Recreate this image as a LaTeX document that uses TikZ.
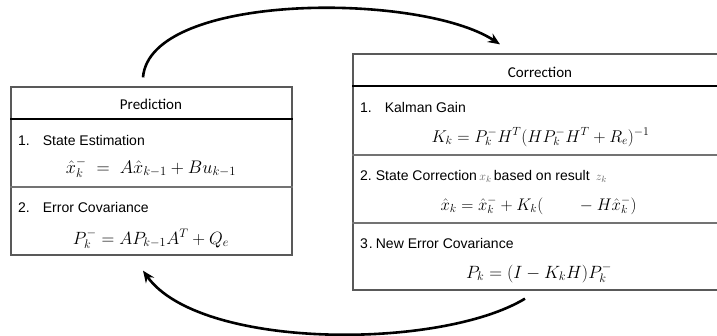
\documentclass[tikz,border=0pt]{standalone}
\usepackage{fontspec}
\usepackage{graphicx}
\setmainfont{Liberation Sans}
\newfontfamily\hdrfont{Carlito}
\usetikzlibrary{arrows.meta,calc}
\newcommand{\fiteq}[2]{\resizebox{#1}{!}{$#2$}}
\tikzset{
  boxframe/.style={draw=black!65, line width=1.3pt, fill=white, inner sep=0pt},
  headrule/.style={line width=2.6pt, black},
  secrule/.style={line width=1.3pt, black!55},
  hdr/.style={font=\hdrfont\fontsize{15}{18}\selectfont, anchor=base, inner sep=0pt},
  item/.style={font=\fontsize{14}{17}\selectfont, anchor=base west, inner sep=0pt},
  eq/.style={font=\fontsize{17}{20}\selectfont, anchor=base, inner sep=0pt},
  loop/.style={line width=2.6pt, -{Stealth[length=12pt,width=10pt]}},
}
\begin{document}
\begin{tikzpicture}[x=1pt,y=-1pt]
\useasboundingbox (0,0) rectangle (717,335);
\begin{scope}
\clip (0,0) rectangle (717,335);
% Prediction box
\node[boxframe, minimum width=281pt, minimum height=168pt] (pred) at (151.5,171) {};
\draw[headrule] (pred.west |- 0,119) coordinate (ph1) -- (pred.east |- 0,119) coordinate (ph2);
\draw[secrule] (pred.west |- 0,187) coordinate (ps1) -- (pred.east |- 0,187) coordinate (ps2);
\node[hdr] (ptitle) at (151,109) {Prediction};
\node[item] (p1) at (18,145) {1.\hspace{13pt}State Estimation};
\node[eq] (pe1) at (151,173) {\fiteq{170pt}{\hat{x}_k^- \;=\; A\hat{x}_{k-1} + Bu_{k-1}}};
\node[item] (p2) at (18,212) {2.\hspace{13pt}Error Covariance};
\node[eq] (pe2) at (151,244) {\fiteq{156pt}{P_k^- = AP_{k-1}A^T + Q_e}};
% Correction box
\node[boxframe, minimum width=380pt, minimum height=236pt] (corr) at (543,172) {};
\draw[headrule] (corr.west |- 0,86) coordinate (ch1) -- (corr.east |- 0,86) coordinate (ch2);
\draw[secrule] (corr.west |- 0,155) coordinate (cs1) -- (corr.east |- 0,155) coordinate (cs2);
\draw[secrule] (corr.west |- 0,223) coordinate (cs3) -- (corr.east |- 0,223) coordinate (cs4);
\node[hdr] (ctitle) at (540,77) {Correction};
\node[item] (c1) at (360,112) {1.\hspace{13pt}Kalman Gain};
\node[eq] (ce1) at (540.5,142) {\fiteq{218pt}{K_k = P_k^- H^T(HP_k^- H^T + R_e)^{-1}}};
\node[item] (c2) at (360,180) {2.\hspace{4pt}State Correction\,{\color{black!60}\fontsize{13}{15}\selectfont$x_k$}\,based on result\, {\color{black!60}\fontsize{13}{15}\selectfont$z_k$}};
\node[eq] (ce2) at (538.5,210) {\fiteq{196pt}{\hat{x}_k = \hat{x}_k^- + K_k(\qquad{} - H\hat{x}_k^-)}};
\node[item] (c3) at (360,248) {3\hspace{1pt}.\hspace{3pt}New Error Covariance};
\node[eq] (ce3) at (539,278) {\fiteq{146pt}{P_k = (I - K_kH)P_k^-}};
\end{scope}
% Loop arrows
\coordinate (t0) at ($(pred.north)+(-8.5,-9)$);
\coordinate (t1) at ($(corr.north)+(-43,-9)$);
\coordinate (b0) at ($(corr.south)+(-18,8)$);
\coordinate (b1) at ($(pred.south)+(-8.5,15)$);
\draw[loop] (t0) .. controls (150,-8) and (420,-8) .. (t1);
\draw[loop] (b0) .. controls (440,350) and (200,350) .. (b1);
\end{tikzpicture}
\end{document}
